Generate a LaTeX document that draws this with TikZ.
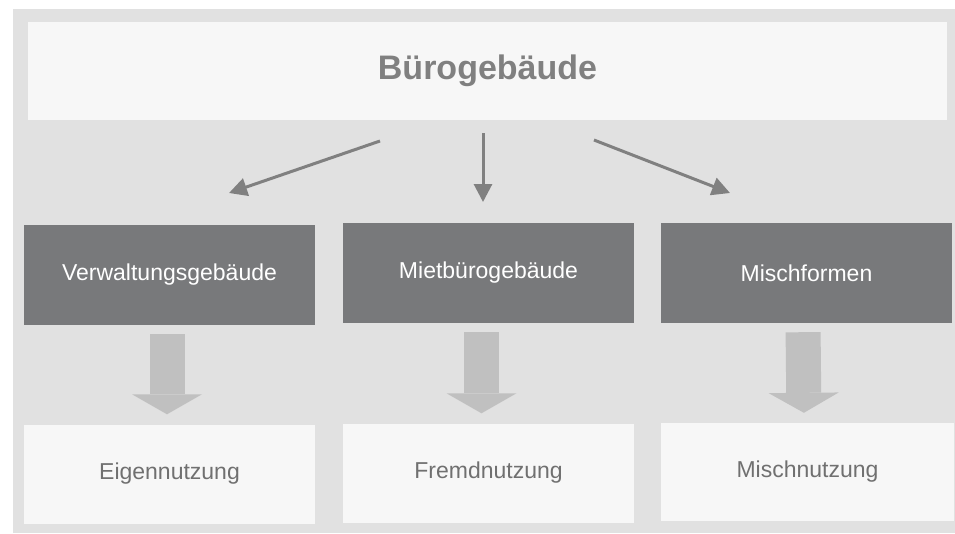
\documentclass[tikz,border=0pt]{standalone}
\usepackage{fontspec}
\setmainfont{Liberation Sans}
\usetikzlibrary{arrows.meta}
\usetikzlibrary{positioning}
\definecolor{mbg}{HTML}{E1E1E1}
\definecolor{mlight}{HTML}{F7F7F7}
\definecolor{mdark}{HTML}{78797B}
\definecolor{mline}{HTML}{808080}
\definecolor{mblock}{HTML}{C0C0C0}
\definecolor{mtext}{HTML}{707070}
\tikzset{topbox/.style = {fill=mlight, text=mline, inner sep=0, minimum width=919pt, minimum height=98pt, font=\bfseries\fontsize{34}{40}\selectfont}}
\tikzset{darkbox/.style = {fill=mdark, text=white, inner sep=0, minimum width=291pt, minimum height=100pt, font=\fontsize{23}{28}\selectfont}}
\tikzset{lightbox/.style = {fill=mlight, text=mtext, inner sep=0, minimum width=291pt, minimum height=99pt, font=\fontsize{23}{28}\selectfont}}
\tikzset{thinarrow/.style = {draw=mline, line width=3pt, -{Triangle[length=18pt, width=18pt]}}}
\tikzset{blockarrow/.style = {draw=mblock, line width=35pt, -{Triangle[length=20pt, width=70pt, line width'=0pt]}, shorten <=9pt, shorten >=10pt}}

\begin{document}
\begin{tikzpicture}[x=1pt, y=-1pt]
      \useasboundingbox (0, 0) rectangle (955, 533);
      \fill [mbg] (13, 9) rectangle (955, 533);

      \node [topbox] (buero) at (487.5, 71) {Bürogebäude};

      \node [darkbox] (verw) at (169.5, 275) {Verwaltungsgebäude};
      \node [darkbox] (mietb) at (488.5, 273) {Mietbürogebäude};
      \node [darkbox] (mischf) at (806.5, 273) {Mischformen};

      \node [lightbox] (eigen) at (169.5, 474) {Eigennutzung};
      \node [lightbox] (fremd) at (488.5, 473) {Fremdnutzung};
      \node [lightbox, minimum width=293pt, minimum height=98pt] (mischn) at (807.5, 472) {Mischnutzung};

      \coordinate (l0) at (380, 141);
      \coordinate (l1) at (229, 193);
      \coordinate (m0) at (483, 133);
      \coordinate (m1) at (483, 202);
      \coordinate (r0) at (594, 140);
      \coordinate (r1) at (730, 193);

      \draw [thinarrow] (l0) -- (l1);
      \draw [thinarrow] (m0) -- (m1);
      \draw [thinarrow] (r0) -- (r1);

      \draw [blockarrow] ([xshift=-2.5pt]verw.south) -- ([xshift=-2.5pt]eigen.north);
      \draw [blockarrow] ([xshift=-7pt]mietb.south) -- ([xshift=-7pt]fremd.north);
      \draw [blockarrow] ([xshift=-3.5pt]mischf.south) -- ([xshift=-3.5pt]mischn.north);
    \end{tikzpicture}
\end{document}
